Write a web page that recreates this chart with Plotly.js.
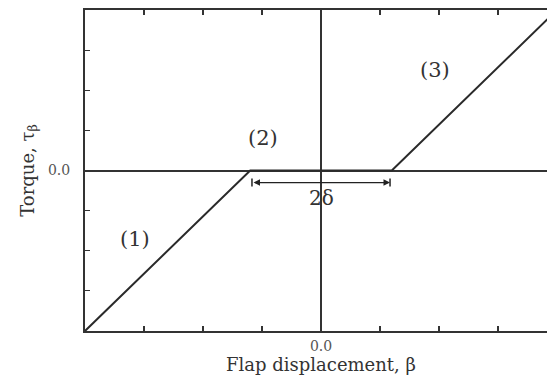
<!DOCTYPE html>
<html>
<head>
<meta charset="utf-8">
<script src="https://cdn.plot.ly/plotly-3.0.1.min.js"></script>
<style>
  html, body { margin: 0; padding: 0; overflow: hidden; background: #fff; }
  #chart { width: 566px; height: 376px; }
</style>
</head>
<body>
<div id="chart"></div>
<script>
// piecewise torque curve with free play of width 2*delta
var beta = [-4, -1.2, 1.2, 4];
var torque = [-4, 0, 0, 4];
var delta = 1.2;

var tick_vals = [-3, -2, -1, 0, 1, 2, 3];
var x_tick_text = ['', '', '', '0.0', '', '', ''];
var y_tick_text = ['', '', '', '0.0', '', '', ''];

var region_labels = ['(1)', '(2)', '(3)'];
var region_x = [-3.16, -0.99, 1.94];
var region_y = [-1.7, 0.8, 2.5];

var serif = 'DejaVu Serif, Liberation Serif, serif';
var ink = '#333';

var data = [{
  x: beta,
  y: torque,
  type: 'scatter',
  mode: 'lines',
  line: {color: '#2a2a2a', width: 2},
  hoverinfo: 'skip'
}];

var annotations = [];
for (var i = 0; i < region_labels.length; i++) {
  annotations.push({
    x: region_x[i], y: region_y[i], xref: 'x', yref: 'y',
    text: region_labels[i], showarrow: false,
    font: {family: serif, size: 21, color: '#333'}
  });
}
// the 2 delta gap arrow
annotations.push({
  x: delta - 0.03, y: -0.3, ax: -delta + 0.03, ay: -0.3,
  xref: 'x', yref: 'y', axref: 'x', ayref: 'y',
  text: '', showarrow: true, arrowside: 'end+start',
  arrowhead: 2, arrowsize: 1, arrowwidth: 1.3, arrowcolor: '#222'
});
annotations.push({
  x: 0, y: -0.68, xref: 'x', yref: 'y',
  text: '2δ', showarrow: false,
  font: {family: serif, size: 20, color: '#333'}
});

var shapes = [-delta + 0.03, delta - 0.03].map(function(xv) {
  return {type: 'line', xref: 'x', yref: 'y', x0: xv, x1: xv, y0: -0.4, y1: -0.2,
          line: {color: '#222', width: 1.5}};
});

var axis_common = {
  range: [-4, 4],
  tickvals: tick_vals,
  ticks: 'inside',
  ticklen: 5,
  tickwidth: 1.2,
  tickcolor: ink,
  showline: true,
  linecolor: ink,
  linewidth: 2,
  mirror: 'ticks',
  showgrid: false,
  zeroline: true,
  zerolinecolor: ink,
  zerolinewidth: 2,
  tickfont: {family: serif, size: 14, color: '#555'},
  fixedrange: true
};

var layout = {
  width: 566,
  height: 376,
  margin: {l: 85, r: 9, t: 10, b: 45},
  paper_bgcolor: '#fff',
  plot_bgcolor: '#fff',
  showlegend: false,
  xaxis: Object.assign({}, axis_common, {
    ticktext: x_tick_text,
    ticklabelstandoff: 1,
    title: {text: 'Flap displacement, β', font: {family: serif, size: 18, color: '#333'}, standoff: 3}
  }),
  yaxis: Object.assign({}, axis_common, {
    ticktext: y_tick_text,
    ticklabelstandoff: 10,
    title: {text: 'Torque, τ<sub>β</sub>', font: {family: serif, size: 18, color: '#333'}, standoff: 9}
  }),
  annotations: annotations,
  shapes: shapes
};

Plotly.newPlot('chart', data, layout, {displayModeBar: false, staticPlot: true});
</script>
</body>
</html>
